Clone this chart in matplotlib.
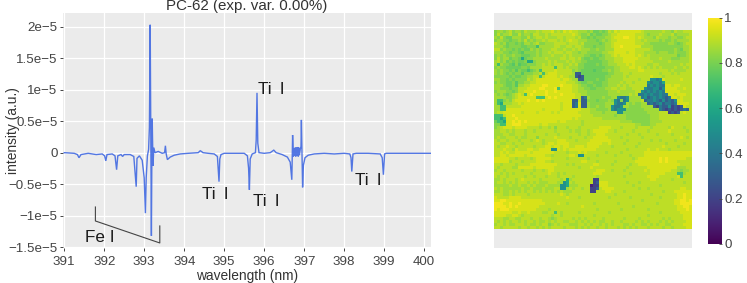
import numpy as np
import matplotlib
matplotlib.use("Agg")
import matplotlib.pyplot as plt

plt.rcParams['font.family'] = ['Liberation Sans', 'DejaVu Sans']

# spectrum: wavelength (nm), intensity (1e-5 a.u.)
wavelength = [391.0,391.25,391.33,391.37,391.42,391.6,391.8,391.95,392.01,392.04,392.07,392.2,392.27,392.31,392.34,392.42,392.46,392.5,392.65,392.74,392.8,392.82,392.88,392.95,393.0,393.03,393.05,393.08,393.11,393.13,393.15,393.165,393.18,393.19,393.2,393.22,393.24,393.27,393.35,393.45,393.51,393.53,393.55,393.58,393.65,393.75,393.9,394.1,394.35,394.4,394.43,394.47,394.6,394.75,394.83,394.87,394.89,394.92,395.0,395.3,395.5,395.58,395.61,395.63,395.65,395.7,395.78,395.8,395.82,395.84,395.87,396.0,396.15,396.24,396.3,396.45,396.58,396.65,396.69,396.7,396.71,396.73,396.745,396.76,396.775,396.79,396.805,396.82,396.835,396.85,396.865,396.88,396.9,396.92,396.93,396.945,396.96,396.98,397.02,397.1,397.25,397.5,397.75,398.0,398.14,398.17,398.19,398.22,398.3,398.6,398.9,398.95,398.98,399.01,399.05,399.5,400.17]
intensity = [0.0,-0.01,-0.03,-0.08,-0.03,-0.01,-0.03,-0.02,-0.05,-0.13,-0.03,-0.02,-0.05,-0.27,-0.05,-0.03,-0.06,-0.03,-0.03,-0.06,-0.54,-0.09,-0.05,-0.12,-0.4,-0.96,-0.4,-0.05,0.05,0.4,2.03,0.3,-1.32,-0.2,0.54,-0.21,0.08,0.0,0.02,-0.01,0.0,0.11,-0.02,-0.11,-0.07,-0.04,-0.02,-0.01,0.0,0.03,0.02,0.0,-0.01,-0.02,-0.06,-0.46,-0.1,-0.03,-0.01,-0.01,-0.01,-0.05,-0.25,-0.59,-0.1,-0.02,0.0,0.2,0.95,0.15,0.0,-0.01,0.0,0.04,0.0,-0.03,-0.07,-0.15,-0.43,-0.1,0.28,-0.06,0.06,-0.05,0.08,-0.06,0.08,-0.05,0.09,-0.06,0.08,-0.04,0.05,0.1,0.52,-0.02,-0.55,-0.2,-0.08,-0.04,-0.02,-0.01,-0.02,-0.01,-0.02,-0.08,-0.3,-0.02,-0.01,-0.01,-0.02,-0.08,-0.35,-0.02,-0.01,-0.01,-0.01]

x_ticks = [391,392,393,394,395,396,397,398,399,400]
y_ticks = [-1.5e-5,-1e-5,-0.5e-5,0,0.5e-5,1e-5,1.5e-5,2e-5]
y_labels = ['−1.5e−5','−1e−5','−0.5e−5','0','0.5e−5','1e−5','1.5e−5','2e−5']

# bracket and labels
fe_x = [391.78,391.78,393.39,393.39]
fe_y = [-0.862e-5,-1.084e-5,-1.433e-5,-1.163e-5]
line_names = ['Fe I','Ti\u2009 I','Ti\u2009 I','Ti\u2009 I','Ti\u2009 I']
name_x = [391.52,395.84,394.44,395.72,398.27]
name_y = [-1.35e-5,1.0e-5,-0.67e-5,-0.78e-5,-0.44e-5]

# map: 66x66 cell reading, digit d = 0.62 + 0.04 d
map_rows = [
"566567566576667677786768787766656445457687888888876666667665766777",
"575667557566577667677777778765564544556778888887776566676667566667",
"657544666557567767666776777675545455566788899887876665766656655677",
"566554556575656676777676787766655545656778888887767666656556566667",
"765645545466567556667777677767555554566788888887776655555566545677",
"666545555445555666667766776776555455566788988888866665555555555667",
"775655454544656566677667667676665565566688888887777765555555654667",
"666554554355556566767776776656655555667788887887776666566655655567",
"565655655444556566676667676666554454566787888887876766666666645567",
"575664554445566667666677677675445445566677788888777766676665556667",
"675645454454456666767666767665544444556677788887777776666676666667",
"666554353445556676767776676755444454556667778787777667766666667677",
"565544444554666677777776766655444444455566777887876767676666766767",
"656554535445456777778777775654444344556566777777887777777767666677",
"656545455355566777888777776554444444445566677677777777767776767777",
"555554544556677878888787766555444444455666676777777787776777777777",
"665545455557678888888878876654444454456666677777677777778777778777",
"565544535566778888888888777654455444556666767767777787778777777777",
"666544536677888899888898887765544544556667676777777777788887887777",
"665554557778888998889888887766554455566776776677777787788888877877",
"566655457788898889889888887766655555556667666667777777778888887777",
"656545678788988889888898888776655555556666666767776667778888788877",
"666655678888888898989888888777665555655666566666677777777888878777",
"665565788889889898888888888777655545556566566666676777877887888777",
"666666778788888888888878888887765555566665666565566666677778888887",
"667777777888888888888878888887765565566666566555566666677778788877",
"667788888888888878888878888887776655556665665555556666667777778787",
"677888888788887888878788888877776666566665555555555666677787777877",
"457788988888888888888888888887777666666656665555555566677777777777",
"447888898888888888888888887877777777666666665555555566677777777777",
"447888989898888888888788777776777777777777666655555566667777777777",
"557888999888888788777777777776777777777777777776655566777777777777",
"567888788887777677675777677767777778888777677776777767777768777677",
"667767677767767777776777767667767888887767777767777677777787777767",
"666776677767777776777677777767767788877777776777677777677776777777",
"676677767667775777778777767777677888887777677777767777777777778767",
"767767776777678767777888777677778888888777776777777767767777677777",
"776677677677777767887888877777788888778777767777677777777677777677",
"767787767777767778878878877888788887777677777776777777778777767777",
"777877687778877888887878788888888877777777776777777877877767777777",
"778787788888788888887777677787877777767777677777778888888888888888",
"778878888878888887767777788777777767777767777677778888888888888888",
"888887767777678888877777677777767777777777777767888888898988888877",
"888886777677778887767777777778877767777767777778888888898988877777",
"776777767777888888888777676777777887777677777677888888888888887777",
"767777668888878888887777777767778777777777776777777888888888866677",
"677677777677767767887777777777777788877677767777778788888887765667",
"776767677777677777877676777777777888777777777677777788888777766677",
"767767777767767776777677776777777767777777767777777888877777787777",
"667677767877777677777767667777777777777777777777777788777776777777",
"677676767776767666777666776777777888887777776777677777777777777677",
"666667667667676667666677666677777888887777777767777777767777777777",
"767666666766766676667766676776777777888877777777677677777777778877",
"667667676767767676767676667777777777788777767777777777776777888888",
"777667677776777777777787677777777777777767777777777767777777788988",
"877778888777777777777777877767777777776777777677777777767777788988",
"889988888888888877777777777777777777777777777777767777777777889989",
"999889889888888887777877677777777677777776777777777777677777889999",
"999989898888888777777777777778777777777777777767777777777777788998",
"989998888888887777677777777777777767777777677777777677777777788898",
"888888778778777766777767777767777777776777777777777777767777778888",
"888877887677777777767767777777777677777777777777777677777777777888",
"777667766777677677656777776767677777677777767777677777776767777888",
"767676776767767667676776677676767676677677677776767677767676777788",
"677676677767667677567677766677676776767677766767766767677667777888",
"776777776776776767677776777676767767767776767676777677776776777788",
]

# finer reading of the dark cells: (row, first column, tenths per cell)
patch_rows = [16,17,18,19,20,21,22,23,24,25,26,27, 22,23,23,24,25,26,27, 14,15,16, 23,24,25, 22,23,24,25, 28,29,30,31, 23,24,25,26, 39,39,41,41, 50,51,52,49,50, 49,50,51,52,53, 9,11,10,13,14,15,13,5,12,21,19,22, 60,47,48]
patch_cols = [52,51,51,50,49,48,49,50,51,53,55,58, 41,40,43,40,39,39,41, 27,27,28, 26,26,26, 29,29,29,29, 0,0,1,2, 1,1,2,2, 19,20,28,29, 23,22,22,24,24, 33,33,32,32,32, 9,1,11,15,16,15,11,14,20,10,21,14, 20,61,62]
patch_vals = [
"5545","545546","454544","5445535","54545454","4454544544","4534545434","34454353435","3434534434","3243352323","4323232343","2323",
"5445","54","45","5445","5445","54555","55",
"33","323","33","33","34","34","34","33","33","33",
"777","7767","776","77","77","76","77","77",
"5","5","5","5","56","556","55","6","6",
"22","23","122","223","22",
"6","7","66","7","7","7","7","7","7","7","7","777",
"7","77","7"]

cbar_ticks = [0,0.2,0.4,0.6,0.8,1]
cbar_labels = ['0','0.2','0.4','0.6','0.8','1']

W, H = 747, 283
fig = plt.figure(figsize=(W/100, H/100), dpi=100)
def axpx(l, t, r, b):
    return fig.add_axes([l/W, 1-b/H, (r-l)/W, (b-t)/H])

ax = axpx(63, 13, 431, 247.5)
ax.set_facecolor('#EBEBEB')
ax.plot(wavelength, np.array(intensity)*1e-5, color='#4169E1', lw=1.0, alpha=0.9, solid_joinstyle='miter')
ax.plot(fe_x, fe_y, color='#444444', lw=0.8)
for s, xx, yy in zip(line_names, name_x, name_y):
    ax.text(xx, yy, s, fontsize=12.3, color='#1a1a1a', va='center', ha='left')
ax.set_xlim(390.97, 400.17)
ax.set_ylim(-1.505e-5, 2.217e-5)
ax.set_xticks(x_ticks)
ax.set_yticks(y_ticks)
ax.set_yticklabels(y_labels)
ax.grid(True, color='white', lw=0.9)
ax.set_axisbelow(True)
for s in ax.spines.values():
    s.set_visible(False)
ax.tick_params(axis='both', labelsize=9.6, colors='#444444', length=2.5, width=0.7, pad=1.5)
ax.tick_params(axis='x', pad=3.5)
ax.set_xlabel('wavelength (nm)', fontsize=9.9, color='#333333', labelpad=0.5)
fig.text(13/W, 1-130.5/H, 'intensity (a.u.)', rotation=90, fontsize=9.9, color='#333333', ha='center', va='center')
ax.set_title('PC-62 (exp. var. 0.00%)', fontsize=10.9, color='#333333', pad=-0.5)

grid = np.array([[0.62+0.04*int(c) for c in (r+'7'*66)[:66]] for r in map_rows])
for rw, cl, vals in zip(patch_rows, patch_cols, patch_vals):
    for j, c in enumerate(vals):
        grid[rw, cl+j] = int(c)/10

axm = axpx(494, 13, 692, 248)
axm.set_facecolor('#EBEBEB')
axm.imshow(grid, cmap='viridis', vmin=0, vmax=1, aspect='auto', interpolation='nearest')
axm.set_xlim(-0.5, 65.5)
axm.set_ylim(71.83, -6.5)
axm.set_xticks([]); axm.set_yticks([])
for s in axm.spines.values():
    s.set_visible(False)

axc = axpx(708, 17.5, 722, 244)
axc.imshow(np.linspace(1, 0, 256)[:, None], cmap='viridis', aspect='auto', extent=[0, 1, 0, 1])
axc.set_xticks([])
axc.yaxis.tick_right()
axc.set_yticks(cbar_ticks)
axc.set_yticklabels(cbar_labels)
axc.tick_params(axis='y', labelsize=9.6, colors='#444444', length=2.5, width=0.6, pad=1.5, direction='in')
for s in axc.spines.values():
    s.set_visible(False)

fig.savefig('out.png', dpi=100)
